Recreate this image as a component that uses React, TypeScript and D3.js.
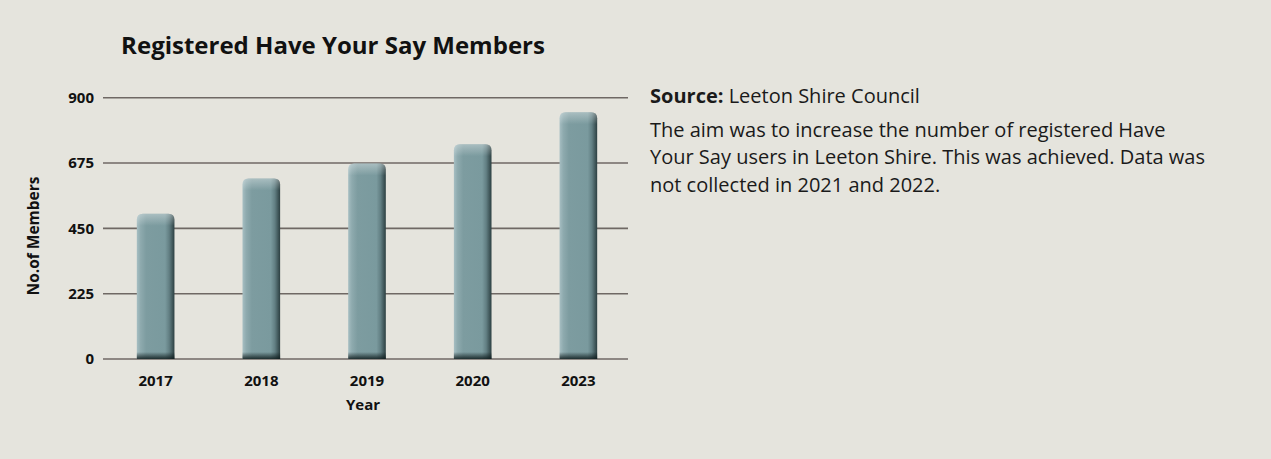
import React from "react";
import * as d3 from "d3";

const years = ["2017", "2018", "2019", "2020", "2023"];
const members = [500, 622, 673, 740, 850];
const yTicks = [0, 225, 450, 675, 900];
const title = "Registered Have Your Say Members";
const xTitle = "Year";
const yTitle = "No.of Members";
const sourceLabel = "Source:";
const sourceText = " Leeton Shire Council";
const noteLines = [
  "The aim was to increase the number of registered Have",
  "Your Say users in Leeton Shire. This was achieved. Data was",
  "not collected in 2021 and 2022.",
];

const W = 1271;
const H = 459;
const FONT = "'Open Sans', 'Noto Sans', sans-serif";

export default function App() {
  const x = d3.scaleBand<string>().domain(years).range([103, 631]).paddingInner(0.644).paddingOuter(0.32);
  const y = d3.scaleLinear().domain([0, 900]).range([359, 97.7]);
  const bw = x.bandwidth();
  const r = 6;

  const barPath = (x0: number, y0: number, w: number, h: number) => {
    const p = d3.path();
    p.moveTo(x0, y0 + h);
    p.lineTo(x0, y0 + r);
    p.quadraticCurveTo(x0, y0, x0 + r, y0);
    p.lineTo(x0 + w - r, y0);
    p.quadraticCurveTo(x0 + w, y0, x0 + w, y0 + r);
    p.lineTo(x0 + w, y0 + h);
    p.closePath();
    return p.toString();
  };

  return (
    <svg width={W} height={H} style={{ position: "absolute", left: 0, top: 0, display: "block" }}>
      <defs>
        <linearGradient id="barH" x1="0" x2="1" y1="0" y2="0">
          <stop offset="0%" stopColor="#a6bec2" />
          <stop offset="10%" stopColor="#8eaaae" />
          <stop offset="25%" stopColor="#7d9ca0" />
          <stop offset="75%" stopColor="#7a9a9e" />
          <stop offset="86%" stopColor="#627f83" />
          <stop offset="100%" stopColor="#2c3f41" />
        </linearGradient>
        <linearGradient id="barTop" x1="0" x2="0" y1="0" y2="1">
          <stop offset="0%" stopColor="#ffffff" stopOpacity="0.35" />
          <stop offset="100%" stopColor="#ffffff" stopOpacity="0" />
        </linearGradient>
        <linearGradient id="barBot" x1="0" x2="0" y1="0" y2="1">
          <stop offset="0%" stopColor="#0d1a1b" stopOpacity="0" />
          <stop offset="100%" stopColor="#0d1a1b" stopOpacity="0.85" />
        </linearGradient>
      </defs>
      <rect x={0} y={0} width={W} height={H} fill="#e5e4dd" />
      <text x={333} y={54} textAnchor="middle" fontFamily={FONT} fontWeight={700} fontSize={24} fill="#111">
        {title}
      </text>
      {yTicks.map((t) => (
        <g key={t}>
          <line x1={103} x2={628} y1={y(t)} y2={y(t)} stroke="#6f6864" strokeWidth={1.6} />
          <text x={94} y={y(t)} dy="0.36em" textAnchor="end" fontFamily={FONT} fontWeight={700} fontSize={15} fill="#111">
            {t}
          </text>
        </g>
      ))}
      {years.map((yr, i) => {
        const x0 = x(yr)!;
        const y0 = y(members[i]);
        const h = y(0) - y0;
        return (
          <g key={yr}>
            <path d={barPath(x0, y0, bw, h)} fill="url(#barH)" />
            <path d={barPath(x0, y0, bw, 12)} fill="url(#barTop)" />
            <rect x={x0} y={y(0) - 7} width={bw} height={7} fill="url(#barBot)" />
            <text x={x0 + bw / 2} y={386} textAnchor="middle" fontFamily={FONT} fontWeight={700} fontSize={15} fill="#111">
              {yr}
            </text>
          </g>
        );
      })}
      <text x={363} y={410} textAnchor="middle" fontFamily={FONT} fontWeight={700} fontSize={15} fill="#111">
        {xTitle}
      </text>
      <text
        transform={`translate(39, 236) rotate(-90)`}
        textAnchor="middle"
        fontFamily={FONT}
        fontWeight={700}
        fontSize={15.5}
        fill="#111"
      >
        {yTitle}
      </text>
      <text x={650} y={103} fontFamily={FONT} fontSize={20} fill="#1a1a1a">
        <tspan fontWeight={700}>{sourceLabel}</tspan>
        <tspan>{sourceText}</tspan>
      </text>
      {noteLines.map((l, i) => (
        <text key={i} x={650} y={137 + i * 27.3} fontFamily={FONT} fontSize={20} fill="#1a1a1a">
          {l}
        </text>
      ))}
    </svg>
  );
}
